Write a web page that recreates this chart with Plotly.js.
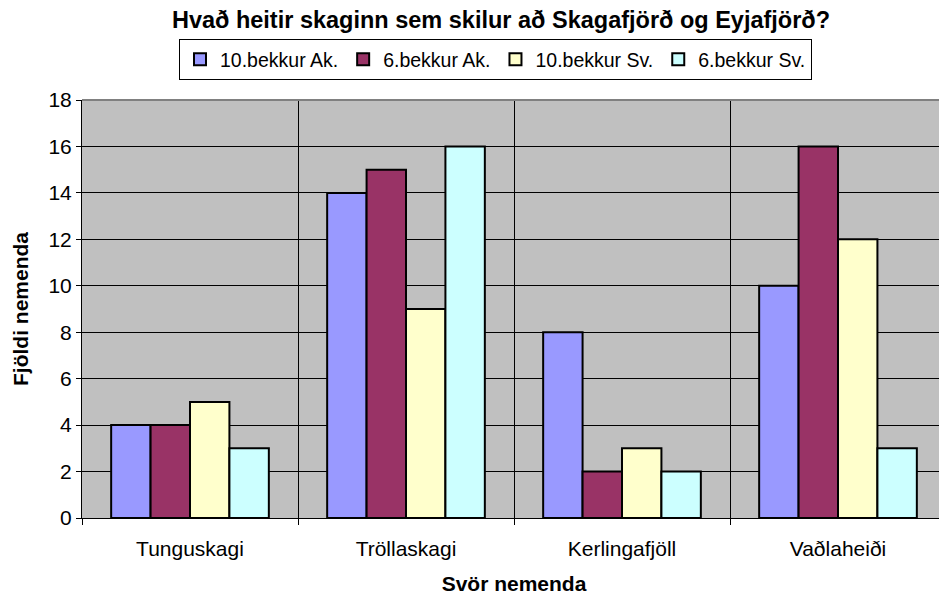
<!DOCTYPE html>
<html>
<head>
<meta charset="utf-8">
<script src="https://cdn.plot.ly/plotly-3.0.1.min.js"></script>
<style>
  html, body { margin: 0; padding: 0; background: white; overflow: hidden; }
  #graf { width: 947px; height: 596px; }
</style>
</head>
<body>
<div id="graf"></div>
<script>
// dades del grafic
var svor = ['Tunguskagi', 'Tröllaskagi', 'Kerlingafjöll', 'Vaðlaheiði'];
var bekkur10Ak = [4, 14, 8, 10];
var bekkur6Ak = [4, 15, 2, 16];
var bekkur10Sv = [5, 9, 3, 12];
var bekkur6Sv = [3, 16, 2, 3];

var FONT = 'Liberation Sans, Arial, sans-serif';

function feSerie(nom, valors, color) {
    return {
        type: 'bar', x: svor, y: valors, name: nom,
        marker: {color: color, line: {color: 'black', width: 2}},
        hoverinfo: 'y'
    };
}

var dades = [
    feSerie('10.bekkur Ak.', bekkur10Ak, '#9999FF'),
    feSerie('6.bekkur Ak.', bekkur6Ak, '#993366'),
    feSerie('10.bekkur Sv.', bekkur10Sv, '#FFFFCC'),
    feSerie('6.bekkur Sv.', bekkur6Sv, '#CCFFFF')
];

var layout = {
    width: 947, height: 596,
    margin: {l: 82, r: 1, t: 100, b: 78},
    paper_bgcolor: 'white',
    plot_bgcolor: '#C0C0C0',
    font: {family: FONT, size: 21, color: 'black'},
    barmode: 'group',
    bargap: 0.27,
    bargroupgap: 0,
    title: {
        text: '<b>Hvað heitir skaginn sem skilur að Skagafjörð og Eyjafjörð?</b>',
        font: {family: FONT, size: 23.5, color: 'black'},
        xref: 'container', x: 501 / 947, xanchor: 'center',
        yref: 'container', y: 1 - 20 / 596, yanchor: 'middle'
    },
    showlegend: true,
    legend: {
        orientation: 'h',
        x: (179 - 82) / 864, xanchor: 'left',
        y: 1 + (100 - 39) / 418, yanchor: 'top',
        bgcolor: 'white', bordercolor: 'black', borderwidth: 1,
        font: {family: FONT, size: 19.5, color: 'black'},
        itemwidth: 30, traceorder: 'normal'
    },
    xaxis: {
        type: 'category',
        tickson: 'boundaries',
        ticks: 'outside', ticklen: 6, tickcolor: 'black', tickwidth: 1,
        showgrid: true, gridcolor: 'black', gridwidth: 1,
        showline: true, linecolor: 'black', linewidth: 1,
        ticklabelstandoff: 12,
        tickfont: {family: FONT, size: 21, color: 'black'},
        title: {text: '<b>Svör nemenda</b>', font: {family: FONT, size: 21, color: 'black'}, standoff: 17}
    },
    yaxis: {
        range: [0, 18], dtick: 2,
        ticks: 'outside', ticklen: 5, tickcolor: 'black', tickwidth: 1,
        showgrid: true, gridcolor: 'black', gridwidth: 1,
        showline: true, linecolor: 'black', linewidth: 1,
        zeroline: false,
        tickfont: {family: FONT, size: 21, color: 'black'},
        title: {text: '<b>Fjöldi nemenda</b>', font: {family: FONT, size: 21, color: 'black'}, standoff: 14}
    },
    shapes: [
        // vora superior grisa de l'area del grafic
        {type: 'line', xref: 'paper', yref: 'paper', x0: 0, x1: 1, y0: 1, y1: 1,
         line: {color: '#808080', width: 2}}
    ]
};

Plotly.newPlot('graf', dades, layout, {displayModeBar: false, staticPlot: true});
</script>
</body>
</html>
